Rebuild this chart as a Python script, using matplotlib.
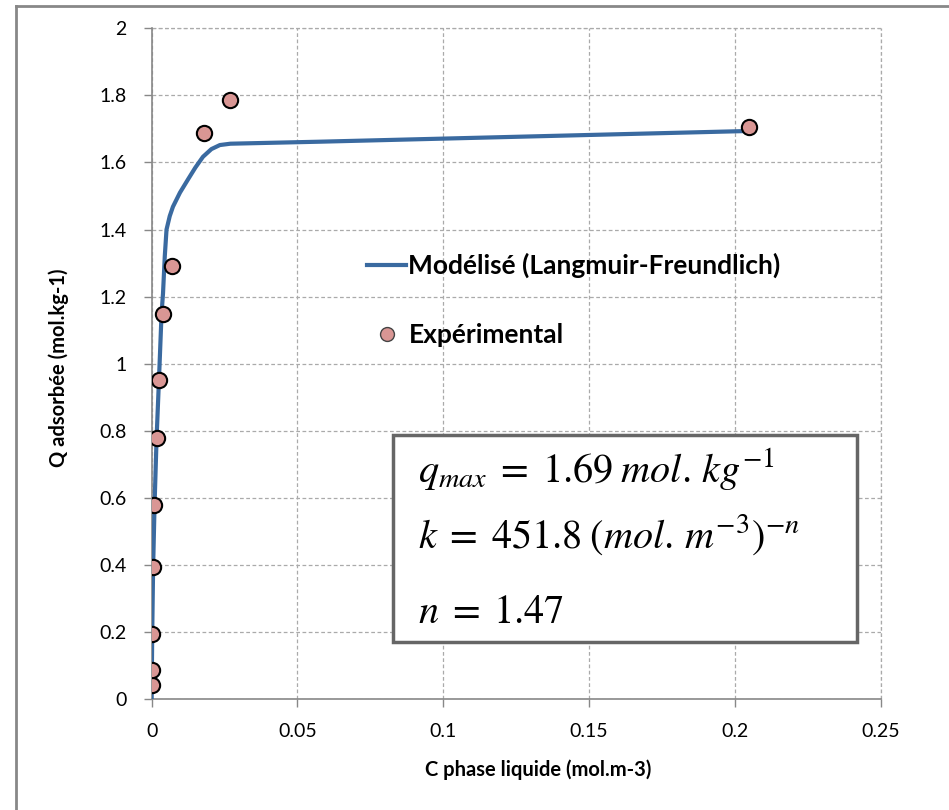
import matplotlib
matplotlib.use("Agg")
import matplotlib.pyplot as plt
from matplotlib.lines import Line2D
from matplotlib.patches import Rectangle

plt.rcParams['font.family'] = ['Lato', 'DejaVu Sans']
plt.rcParams['mathtext.fontset'] = 'stix'

# Experimental points (C phase liquide, Q adsorbee)
c_exp = [0.00002, 0.00003, 0.0001, 0.0003, 0.0008, 0.0017, 0.0026, 0.0040,
         0.0069, 0.0179, 0.0270, 0.2050]
q_exp = [0.042, 0.086, 0.194, 0.394, 0.578, 0.779, 0.951, 1.147,
         1.292, 1.688, 1.786, 1.706]

# Model curve (Langmuir-Freundlich)
c_mod = [0.0, 0.00005, 0.0002, 0.0005, 0.001, 0.0017, 0.0025, 0.0034,
         0.0039, 0.0045, 0.0051, 0.0062, 0.0073, 0.0097, 0.0125, 0.0150,
         0.0176, 0.0205, 0.0234, 0.0270, 0.0577, 0.2050]
q_mod = [0.0, 0.06, 0.20, 0.39, 0.58, 0.78, 0.95, 1.15,
         1.21, 1.32, 1.40, 1.44, 1.468, 1.51, 1.55, 1.585,
         1.617, 1.640, 1.652, 1.656, 1.662, 1.694]

x_ticks = [0, 0.05, 0.1, 0.15, 0.2, 0.25]
x_labels = ['0', '0.05', '0.1', '0.15', '0.2', '0.25']
y_ticks = [0, 0.2, 0.4, 0.6, 0.8, 1.0, 1.2, 1.4, 1.6, 1.8, 2.0]
y_labels = ['0', '0.2', '0.4', '0.6', '0.8', '1', '1.2', '1.4', '1.6', '1.8', '2']

fig = plt.figure(figsize=(9.49, 8.10), dpi=100)
ax = fig.add_axes([0.1598, 0.137, 0.928 - 0.1598, 0.965 - 0.137])

line_col = '#3a6aa0'
ax.plot(c_mod, q_mod, color=line_col, lw=3, solid_capstyle='round',
        solid_joinstyle='round', zorder=3)
ax.plot(c_exp, q_exp, 'o', ms=11, mfc='#d99694', mec='black', mew=1.5, zorder=4)

ax.set_xlim(0, 0.25)
ax.set_ylim(0, 2)
ax.set_xticks(x_ticks)
ax.set_xticklabels(x_labels)
ax.set_yticks(y_ticks)
ax.set_yticklabels(y_labels)
ax.tick_params(axis='both', labelsize=14, colors='#888888', labelcolor='black',
               length=6, width=1, direction='out')
ax.tick_params(axis='x', pad=11)
ax.tick_params(axis='y', pad=12)

ax.grid(True, color='#aaaaaa', ls=(0, (3, 2)), lw=0.9)
for s in ['top', 'right']:
    ax.spines[s].set_visible(False)
for s in ['left', 'bottom']:
    ax.spines[s].set_color('#888888')
    ax.spines[s].set_linewidth(1.2)
# dashed frame at top / right edge as gridlines
ax.axhline(2, color='#aaaaaa', ls=(0, (3, 2)), lw=0.9, clip_on=False)
ax.axvline(0.25, color='#aaaaaa', ls=(0, (3, 2)), lw=0.9, clip_on=False)

ax.set_xlabel('C phase liquide (mol.m-3)', fontsize=14.5, fontweight='bold')
ax.set_ylabel('Q adsorbée (mol.kg-1)', fontsize=14.5, fontweight='bold')
ax.xaxis.set_label_coords(0.53, -0.09)
ax.yaxis.set_label_coords(-0.113, 0.4935)

# legend
handles = [Line2D([], [], color=line_col, lw=3),
           Line2D([], [], ls='', marker='o', ms=10, mfc='#d99694', mec='#444444', mew=1)]
leg = ax.legend(handles, ['Modélisé (Langmuir-Freundlich)', 'Expérimental'],
                loc='upper left', bbox_to_anchor=(0.277, 0.685), frameon=False,
                prop={'weight': 'bold', 'size': 19}, handlelength=1.5,
                handletextpad=0.08, labelspacing=1.7, borderpad=0)

# parameter box
box = Rectangle((393 / 949, 1 - 642 / 810), (857 - 393) / 949, (642 - 435) / 810,
                transform=fig.transFigure, facecolor='white', edgecolor='#666666',
                lw=2.5, zorder=5)
fig.patches.append(box)
fig.text(418 / 949, 1 - 482 / 810, r'$q_{max}\;=\;1.69\;mol.\,kg^{-1}$',
         fontsize=29, va='baseline', zorder=6)
fig.text(418 / 949, 1 - 548 / 810, r'$k\;=\;451.8\;(mol.\,m^{-3})^{-n}$',
         fontsize=29, va='baseline', zorder=6)
fig.text(418 / 949, 1 - 623 / 810, r'$n\;=\;1.47$',
         fontsize=29, va='baseline', zorder=6)

# outer border of the chart (top and left)
fig.add_artist(Line2D([16 / 949, 1], [1 - 6 / 810, 1 - 6 / 810],
                      transform=fig.transFigure, color='#888888', lw=2))
fig.add_artist(Line2D([16 / 949, 16 / 949], [0, 1 - 6 / 810],
                      transform=fig.transFigure, color='#888888', lw=2))

fig.savefig('out.png', dpi=100, facecolor='white')
